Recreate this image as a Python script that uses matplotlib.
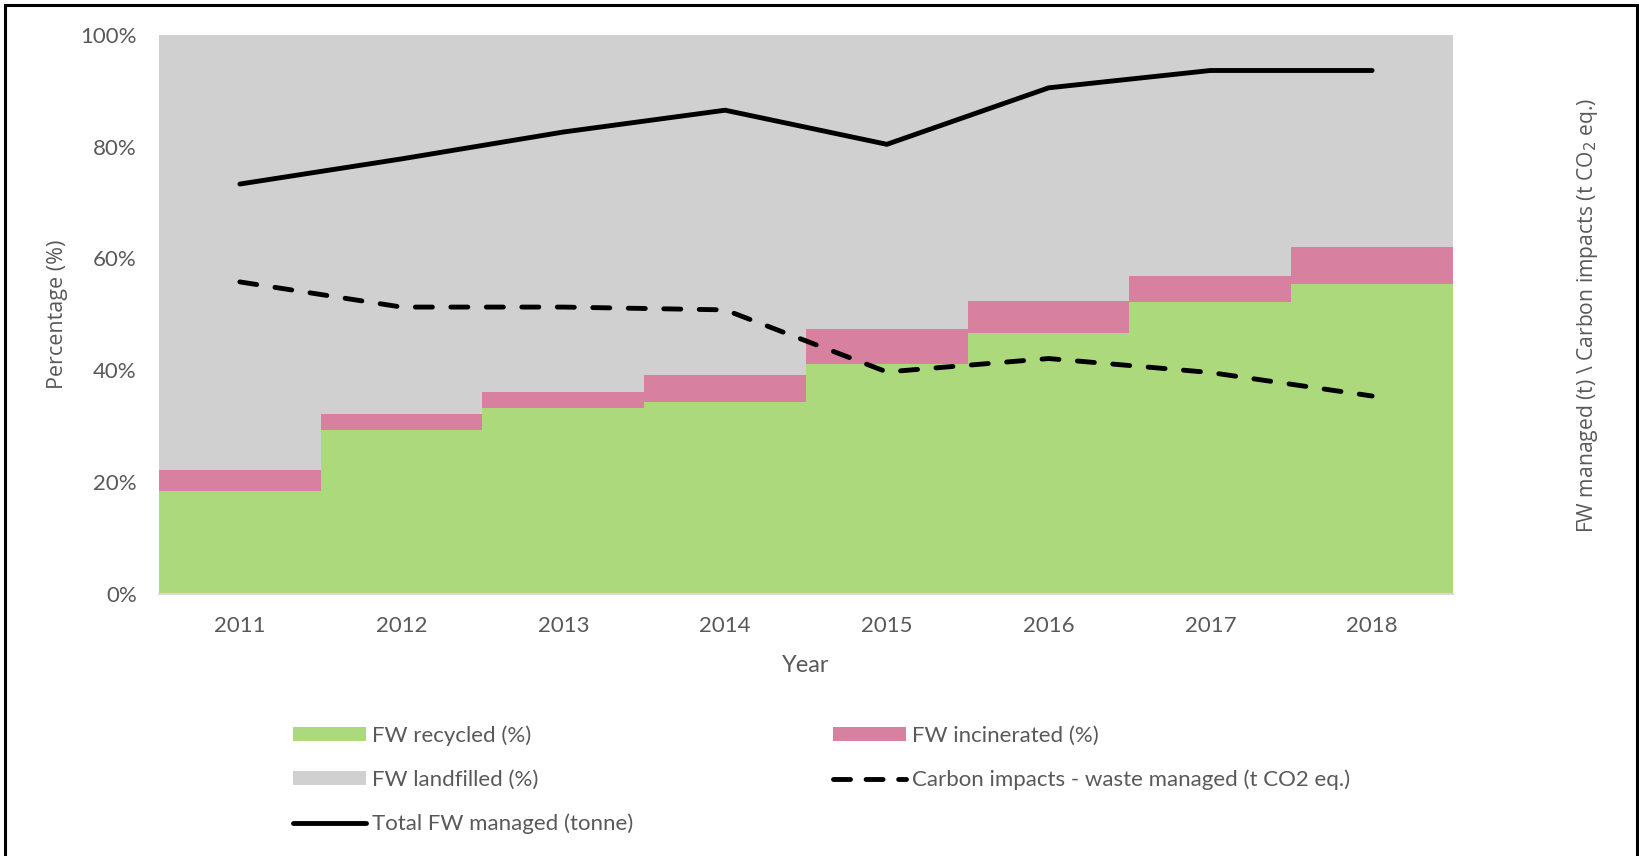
import matplotlib
matplotlib.use("Agg")
import matplotlib.pyplot as plt
from matplotlib.patches import Patch, Rectangle
from matplotlib.lines import Line2D

# data
years = ["2011", "2012", "2013", "2014", "2015", "2016", "2017", "2018"]
recycled = [18.4, 29.3, 33.3, 34.4, 41.2, 46.7, 52.2, 55.5]
incinerated = [3.8, 2.8, 2.8, 4.8, 6.2, 5.6, 4.6, 6.6]
landfilled = [77.8, 67.9, 63.9, 60.8, 52.6, 47.7, 43.2, 37.9]
# secondary axis (no tick labels in the original), relative units 0-100
total_managed = [73.3, 77.8, 82.6, 86.5, 80.4, 90.5, 93.6, 93.6]
carbon_impacts = [55.8, 51.3, 51.3, 50.8, 39.7, 42.1, 39.6, 35.4]

GREEN = "#acd97b"
PINK = "#d880a0"
GREY = "#d0d0d0"
TXT = "#595959"
TICKFONT = ["Lato", "DejaVu Sans"]
DASH = (0, (3.5, 3.8))

W, H = 1640, 856
fig = plt.figure(figsize=(W / 100, H / 100), dpi=100)

left, right, top, bottom = 159, 1453, 34.7, 594
ax = fig.add_axes([left / W, 1 - bottom / H, (right - left) / W, (bottom - top) / H])

x = list(range(len(years)))
base2 = [r + i for r, i in zip(recycled, incinerated)]
ax.bar(x, recycled, width=1.0, color=GREEN, linewidth=0)
ax.bar(x, incinerated, width=1.0, bottom=recycled, color=PINK, linewidth=0)
ax.bar(x, landfilled, width=1.0, bottom=base2, color=GREY, linewidth=0)

ax.set_xlim(-0.5, len(years) - 0.5)
ax.set_ylim(0, 100)
ax.set_yticks([0, 20, 40, 60, 80, 100])
ax.set_yticklabels(["0%", "20%", "40%", "60%", "80%", "100%"])
ax.set_xticks(x)
ax.set_xticklabels(years)
for s in ["top", "left", "right"]:
    ax.spines[s].set_visible(False)
ax.spines["bottom"].set_color("#d9d9d9")
ax.spines["bottom"].set_linewidth(1.5)
ax.tick_params(axis="both", length=0, labelsize=16, colors=TXT)
ax.tick_params(axis="y", pad=16)
ax.tick_params(axis="x", pad=15.5)
for lab in ax.get_xticklabels() + ax.get_yticklabels():
    lab.set_family(TICKFONT)

ax.set_xlabel("Year", fontsize=17, color=TXT, family=TICKFONT, labelpad=14)

# secondary axis for the two lines
ax2 = ax.twinx()
ax2.set_ylim(0, 100)
ax2.set_yticks([])
for s in ax2.spines.values():
    s.set_visible(False)

ax2.plot(x, total_managed, color="black", lw=3.5, solid_capstyle="round",
         solid_joinstyle="miter")
ax2.plot(x, carbon_impacts, color="black", lw=3.5, linestyle=DASH,
         dash_capstyle="round", dash_joinstyle="round")

# axis titles
fig.text(57 / W, 1 - 314 / H, "Percentage (%)", rotation=90, ha="center",
         va="center", fontsize=15.5, color=TXT, family=["Open Sans", "DejaVu Sans"])
fig.text(1588 / W, 1 - 315 / H, r"FW managed (t) \ Carbon impacts (t CO$_2$ eq.)",
         rotation=90, ha="center", va="center", fontsize=15.2, color=TXT,
         family=["Open Sans", "DejaVu Sans"])

# legend
handles = [
    Patch(facecolor=GREEN, edgecolor="none"),
    Patch(facecolor=GREY, edgecolor="none"),
    Line2D([], [], color="black", lw=3.5, solid_capstyle="round"),
    Patch(facecolor=PINK, edgecolor="none"),
    Line2D([], [], color="black", lw=3.5, linestyle=(0, (3.5, 3.2)),
           dash_capstyle="round"),
]
labels = ["FW recycled (%)", "FW landfilled (%)", "Total FW managed (tonne)",
          "FW incinerated (%)", "Carbon impacts - waste managed (t CO2 eq.)"]
leg = fig.legend(handles, labels, ncol=2, loc="upper left",
                 bbox_to_anchor=(293 / W, 1 - 725 / H), frameon=False,
                 prop={"family": TICKFONT, "size": 16}, labelcolor=TXT,
                 handlelength=3.3, handleheight=0.6, handletextpad=0.25,
                 labelspacing=1.08, columnspacing=9.0, borderpad=0,
                 borderaxespad=0)

# outer frame
fig.patches.append(Rectangle((5 / W, -0.05), (1637 - 5) / W, 1.05 - 5 / H,
                             transform=fig.transFigure, fill=False,
                             edgecolor="black", lw=2.2))

fig.savefig("out.png", dpi=100)
